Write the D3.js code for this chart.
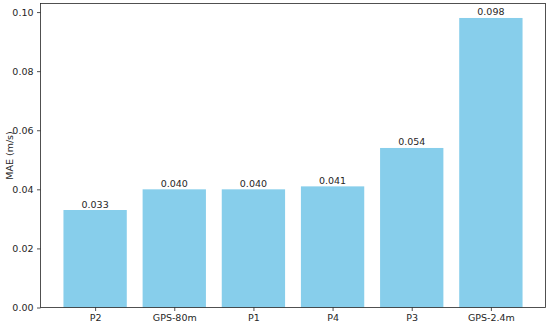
<!DOCTYPE html>
<html><head><meta charset="utf-8">
<script src="https://cdn.jsdelivr.net/npm/d3@7"></script>
<style>body{margin:0;background:#fff}svg{display:block}text{font-family:"DejaVu Sans",sans-serif;fill:#262626}</style>
</head><body><svg id="c" width="550" height="326"></svg>
<script>
const categories = ["P2","GPS-80m","P1","P4","P3","GPS-2.4m"];
const maeValues = [0.033,0.040,0.040,0.041,0.054,0.098];
const labels = ["0.033","0.040","0.040","0.041","0.054","0.098"];
const yTicks = [0,0.02,0.04,0.06,0.08,0.10];

const svg = d3.select("#c");
const L=40.5, R=545.5, T=3.5, B=307.5;
const n = categories.length;
const x = d3.scaleLinear().domain([-0.69, n-1+0.69]).range([L,R]);
const y = d3.scaleLinear().domain([0, 0.098*1.05]).range([B,T]);
const fs = 9.5;

svg.selectAll("rect.bar").data(maeValues).join("rect").attr("class","bar")
  .attr("x",(d,i)=>x(i-0.4)).attr("width",(d,i)=>x(i+0.4)-x(i-0.4))
  .attr("y",d=>y(d)).attr("height",d=>B-y(d)).attr("fill","#87CEEB");

svg.selectAll("text.val").data(maeValues).join("text").attr("class","val")
  .attr("x",(d,i)=>x(i)).attr("y",d=>y(d)-2.5).attr("text-anchor","middle")
  .attr("font-size",fs).text((d,i)=>labels[i]);

const yAxis = d3.axisLeft(y).tickValues(yTicks).tickFormat(d3.format(".2f")).tickSize(3.5).tickPadding(3.5);
const gy = svg.append("g").attr("transform",`translate(${L},0)`).call(yAxis);
const xAxis = d3.axisBottom(d3.scaleLinear().domain(x.domain()).range(x.range()))
  .tickValues(d3.range(n)).tickFormat(i=>categories[i]).tickSize(3.5).tickPadding(3.5);
const gx = svg.append("g").attr("transform",`translate(0,${B})`).call(xAxis);
[gx,gy].forEach(g=>{g.select(".domain").remove();g.selectAll("line").attr("stroke","#262626").attr("stroke-width",0.8);g.selectAll("text").attr("font-size",fs).attr("font-family","DejaVu Sans").attr("fill","#262626");});

svg.append("rect").attr("x",L).attr("y",T).attr("width",R-L).attr("height",B-T)
  .attr("fill","none").attr("stroke","#262626").attr("stroke-width",0.8);

svg.append("text").attr("transform",`translate(12.5,${(T+B)/2}) rotate(-90)`)
  .attr("text-anchor","middle").attr("font-size",fs).text("MAE (m/s)");
</script></body></html>
